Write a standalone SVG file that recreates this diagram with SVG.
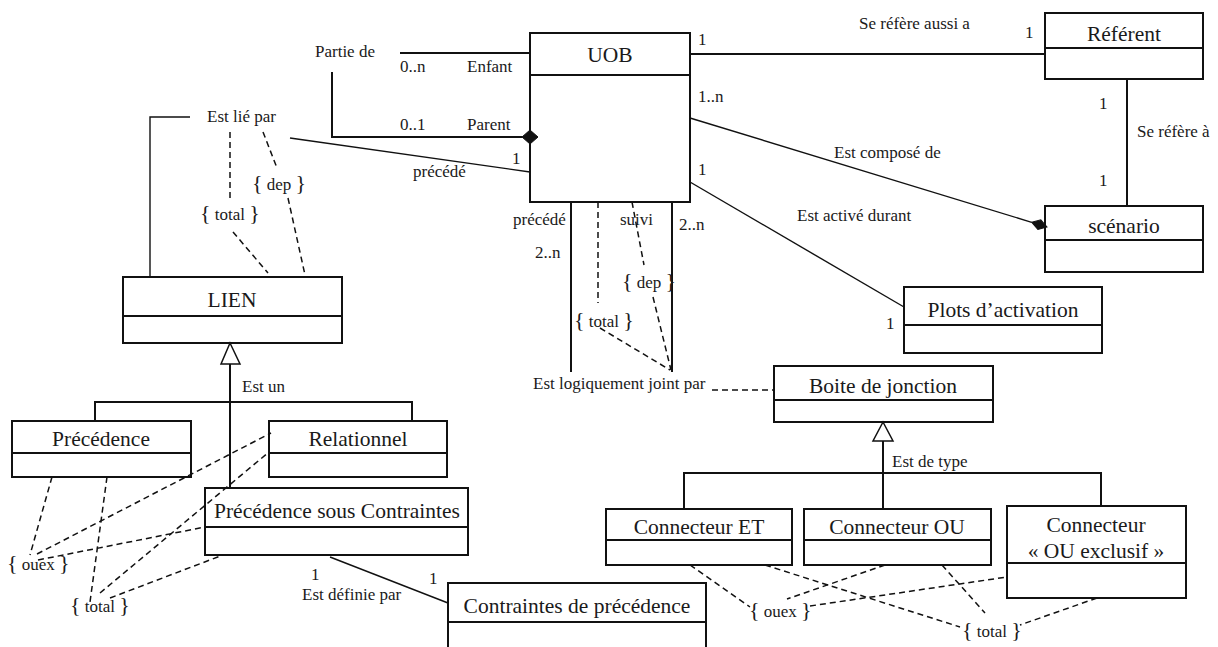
<svg xmlns="http://www.w3.org/2000/svg" width="1218" height="647" viewBox="0 0 1218 647">
<defs>
<style>
text{font-family:"Liberation Serif","Times New Roman",serif;fill:#1a1a1a}
.t{font-size:21.5px;text-anchor:middle}
.l{font-size:17px}
.b{font-size:22px}
rect,.div{fill:none;stroke:#111;stroke-width:2}
rect{fill:#fff}
.s{fill:none;stroke:#111;stroke-width:1.4}
.k{fill:none;stroke:#111;stroke-width:2}
.d{fill:none;stroke:#111;stroke-width:1.5;stroke-dasharray:6 4}
.tri{fill:#fff;stroke:#111;stroke-width:1.5}
.dia{fill:#111;stroke:#111;stroke-width:1}
</style>
</defs>
<rect x="0" y="0" width="1218" height="647" style="fill:#fff;stroke:none"/>

<g id="uob"><rect x="530" y="33" width="160" height="169"/><line class="div" x1="530" y1="75" x2="690" y2="75"/><text class="t" x="610" y="62">UOB</text></g>
<g id="referent"><rect x="1045" y="13" width="158" height="66"/><line class="div" x1="1045" y1="48" x2="1203" y2="48"/><text class="t" x="1124" y="41">Référent</text></g>
<g id="scenario"><rect x="1045" y="206" width="158" height="66"/><line class="div" x1="1045" y1="240" x2="1203" y2="240"/><text class="t" x="1124" y="233">scénario</text></g>
<g id="plots"><rect x="904" y="287" width="198" height="66"/><line class="div" x1="904" y1="325" x2="1102" y2="325"/><text class="t" x="1003" y="317">Plots d’activation</text></g>
<g id="lien"><rect x="123" y="277" width="219" height="66"/><line class="div" x1="123" y1="316" x2="342" y2="316"/><text class="t" x="232" y="307">LIEN</text></g>
<g id="precedence"><rect x="12" y="421" width="179" height="56"/><line class="div" x1="12" y1="453" x2="191" y2="453"/><text class="t" x="101" y="446">Précédence</text></g>
<g id="relationnel"><rect x="269" y="421" width="178" height="56"/><line class="div" x1="269" y1="453" x2="447" y2="453"/><text class="t" x="358" y="446">Relationnel</text></g>
<g id="psc"><rect x="205" y="488" width="263" height="67"/><line class="div" x1="205" y1="527" x2="468" y2="527"/><text class="t" x="337" y="518">Précédence sous Contraintes</text></g>
<g id="contraintes"><rect x="448" y="583" width="258" height="80"/><line class="div" x1="448" y1="622" x2="706" y2="622"/><text class="t" x="577" y="613">Contraintes de précédence</text></g>
<g id="boite"><rect x="774" y="366" width="219" height="56"/><line class="div" x1="774" y1="400" x2="993" y2="400"/><text class="t" x="883" y="393">Boite de jonction</text></g>
<g id="et"><rect x="606" y="509" width="186" height="56"/><line class="div" x1="606" y1="540" x2="792" y2="540"/><text class="t" x="699" y="534">Connecteur ET</text></g>
<g id="ou"><rect x="804" y="509" width="187" height="56"/><line class="div" x1="804" y1="540" x2="991" y2="540"/><text class="t" x="897" y="534">Connecteur OU</text></g>
<g id="ouex"><rect x="1007" y="506" width="179" height="92"/><line class="div" x1="1007" y1="563" x2="1186" y2="563"/><text class="t" x="1096" y="532">Connecteur</text><text class="t" x="1096" y="558">« OU exclusif »</text></g>

<g id="connectors">
<polyline class="k" points="400,53 530,53"/>
<polyline class="k" points="332,72 332,137 522,137"/>
<path class="dia" d="M522,137 L530,130 L538,137 L530,144 Z"/>
<polyline class="s" points="290,138 530,172"/>
<polyline class="s" points="190,117 150,117 150,277"/>
<line class="d" x1="230" y1="132" x2="230" y2="198"/>
<line class="d" x1="233" y1="232" x2="268" y2="273"/>
<line class="d" x1="263" y1="132" x2="277" y2="168"/>
<line class="d" x1="288" y1="198" x2="305" y2="275"/>
<line class="k" x1="690" y1="54" x2="1045" y2="54"/>
<line class="k" x1="1127" y1="79" x2="1127" y2="206"/>
<line class="s" x1="690" y1="118" x2="1031.7" y2="222.3"/>
<path class="dia" d="M-16,0 L-8,-5 L0,0 L-8,5 Z" transform="translate(1047,227) rotate(17)"/>
<line class="s" x1="690" y1="182" x2="904" y2="307"/>
<line class="k" x1="571" y1="202" x2="571" y2="372"/>
<line class="k" x1="672" y1="202" x2="672" y2="372"/>
<line class="d" x1="598" y1="202" x2="598" y2="303"/>
<line class="d" x1="600" y1="328" x2="670" y2="370"/>
<line class="d" x1="632" y1="202" x2="644" y2="265"/>
<line class="d" x1="653" y1="297" x2="671" y2="370"/>
<line class="d" x1="712" y1="390" x2="774" y2="390"/>
<polygon class="tri" points="230,343 221,364 240,364"/>
<line class="k" x1="230" y1="364" x2="230" y2="488"/>
<polyline class="k" points="95,421 95,402 412,402 412,421"/>
<line class="d" x1="52" y1="477" x2="30" y2="555"/>
<line class="d" x1="107" y1="477" x2="90" y2="602"/>
<line class="d" x1="37" y1="554" x2="271" y2="433"/>
<line class="d" x1="38" y1="560" x2="205" y2="527"/>
<line class="d" x1="100" y1="593" x2="269" y2="452"/>
<line class="d" x1="110" y1="598" x2="223" y2="555"/>
<line class="s" x1="330" y1="557" x2="448" y2="603"/>
<polygon class="tri" points="883,422 873,441 893,441"/>
<line class="k" x1="883" y1="441" x2="883" y2="509"/>
<polyline class="k" points="684,509 684,473 1101,473 1101,506"/>
<line class="d" x1="690" y1="565" x2="750" y2="607"/>
<line class="d" x1="765" y1="565" x2="960" y2="627"/>
<line class="d" x1="885" y1="565" x2="787" y2="599"/>
<line class="d" x1="810" y1="606" x2="1007" y2="577"/>
<line class="d" x1="942" y1="565" x2="985" y2="613"/>
<line class="d" x1="1097" y1="598" x2="1020" y2="625"/>
</g>

<g id="labels">
<text class="l" x="315" y="57">Partie de</text>
<text class="l" x="400" y="72">0..n</text>
<text class="l" x="467" y="72">Enfant</text>
<text class="l" x="400" y="130">0..1</text>
<text class="l" x="467" y="130">Parent</text>
<text class="l" x="512" y="164">1</text>
<text class="l" x="413" y="177">précédé</text>
<text class="l" x="207" y="122">Est lié par</text>
<text class="l" x="200" y="220"><tspan class="b">{</tspan> total <tspan class="b">}</tspan></text>
<text class="l" x="252" y="190"><tspan class="b">{</tspan> dep <tspan class="b">}</tspan></text>
<text class="l" x="698" y="45">1</text>
<text class="l" x="859" y="29">Se réfère aussi a</text>
<text class="l" x="1025" y="38">1</text>
<text class="l" x="1099" y="109">1</text>
<text class="l" x="1137" y="137">Se réfère à</text>
<text class="l" x="1099" y="186">1</text>
<text class="l" x="698" y="102">1..n</text>
<text class="l" x="834" y="158">Est composé de</text>
<text class="l" x="698" y="175">1</text>
<text class="l" x="797" y="221">Est activé durant</text>
<text class="l" x="886" y="329">1</text>
<text class="l" x="513" y="225">précédé</text>
<text class="l" x="620" y="225">suivi</text>
<text class="l" x="679" y="230">2..n</text>
<text class="l" x="535" y="258">2..n</text>
<text class="l" x="622" y="288"><tspan class="b">{</tspan> dep <tspan class="b">}</tspan></text>
<text class="l" x="574" y="327"><tspan class="b">{</tspan> total <tspan class="b">}</tspan></text>
<text class="l" x="533" y="389">Est logiquement joint par</text>
<text class="l" x="242" y="392">Est un</text>
<text class="l" x="7" y="570"><tspan class="b">{</tspan> ouex <tspan class="b">}</tspan></text>
<text class="l" x="70" y="612"><tspan class="b">{</tspan> total <tspan class="b">}</tspan></text>
<text class="l" x="311" y="580">1</text>
<text class="l" x="429" y="584">1</text>
<text class="l" x="302" y="600">Est définie par</text>
<text class="l" x="892" y="467">Est de type</text>
<text class="l" x="749" y="617"><tspan class="b">{</tspan> ouex <tspan class="b">}</tspan></text>
<text class="l" x="962" y="637"><tspan class="b">{</tspan> total <tspan class="b">}</tspan></text>
</g>
</svg>
